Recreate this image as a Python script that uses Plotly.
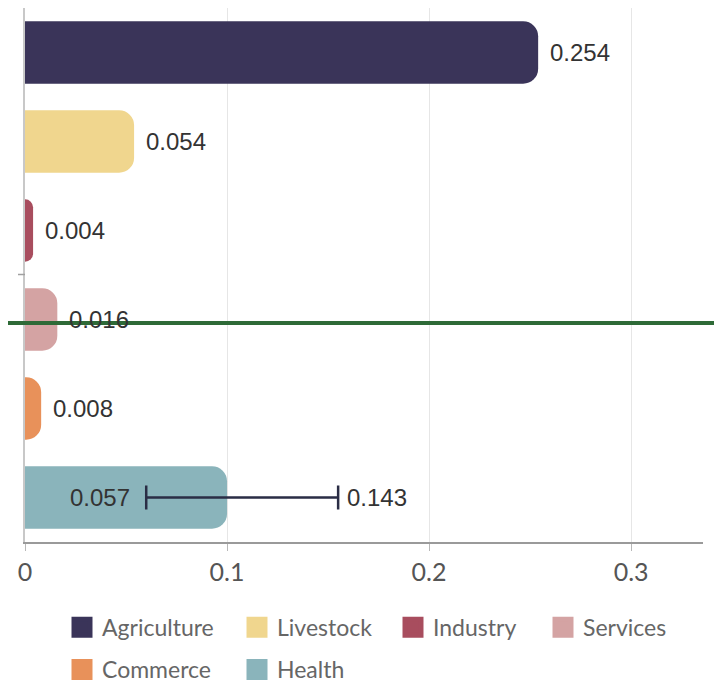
import plotly.graph_objects as go

categories = ["Agriculture", "Livestock", "Industry", "Services", "Commerce", "Health"]
values = [0.254, 0.054, 0.004, 0.016, 0.008, 0.1]
value_labels = ["0.254", "0.054", "0.004", "0.016", "0.008", ""]
colors = ["#3a3459", "#f0d68e", "#a84d5e", "#d4a3a3", "#e8915a", "#8ab4bb"]

# Health interval (positions) and its printed labels
err_low = 0.060
err_high = 0.155
err_low_label = "0.057"
err_high_label = "0.143"

tick_vals = [0, 0.1, 0.2, 0.3]
tick_text = ["0", "0.1", "0.2", "0.3"]

# geometry helpers (pixels inside the figure div; the page body adds an 8px margin)
W, H = 714, 683
ML, MR, MT, MB = 17, 19, 0, 144
PW = W - ML - MR
PH = H - MT - MB


def py(page_y):
    # page y pixel -> paper y
    return (H - MB + 8 - page_y) / PH


def px(page_x):
    return (page_x - 8 - ML) / PW


fig = go.Figure()
# first five bars (no interval)
fig.add_trace(go.Bar(
    x=values[:5], y=categories[:5], orientation="h",
    marker=dict(color=colors[:5], cornerradius=15, line=dict(width=0)),
    width=0.7, showlegend=False, hoverinfo="skip",
))
# Health bar with its interval
fig.add_trace(go.Bar(
    x=values[5:], y=categories[5:], orientation="h",
    marker=dict(color=colors[5:], cornerradius=15, line=dict(width=0)),
    width=0.7, showlegend=False, hoverinfo="skip",
    error_x=dict(type="data", symmetric=False,
                 array=[err_high - values[5]], arrayminus=[values[5] - err_low],
                 color="#2a2d45", thickness=2.5, width=12),
))

# legend entries (one legend per entry so each sits where the reference puts it)
row1, row2 = py(633), py(676)
leg_pos = [(px(62), row1), (px(237), row1), (px(393), row1), (px(543), row1),
           (px(62), row2), (px(237), row2)]
legend_layout = {}
for i, (cat, col) in enumerate(zip(categories, colors)):
    name = "legend" if i == 0 else f"legend{i+1}"
    fig.add_trace(go.Scatter(
        x=[None], y=[None], mode="markers", name=cat,
        marker=dict(symbol="square", size=16, color=col, line=dict(color=col, width=5)),
        legend=name, hoverinfo="skip",
    ))
    legend_layout[name] = dict(
        x=leg_pos[i][0], y=leg_pos[i][1], xanchor="left", yanchor="middle",
        orientation="v", bgcolor="rgba(0,0,0,0)", borderwidth=0,
        font=dict(family="Lato", size=23, color="#666666"),
    )

lab_font = dict(family="Liberation Sans", size=24, color="#333333")
annotations = []
for cat, v, lab in zip(categories, values, value_labels):
    if lab:
        annotations.append(dict(x=v, y=cat, xref="x", yref="y", text=lab, showarrow=False,
                                xanchor="left", xshift=10, font=lab_font))
annotations.append(dict(x=err_low, y=categories[5], xref="x", yref="y", text=err_low_label,
                        showarrow=False, xanchor="right", xshift=-14, font=lab_font))
annotations.append(dict(x=err_high, y=categories[5], xref="x", yref="y", text=err_high_label,
                        showarrow=False, xanchor="left", xshift=7, font=lab_font))

fig.update_layout(
    width=W, height=H,
    margin=dict(l=ML, r=MR, t=MT, b=MB),
    paper_bgcolor="white", plot_bgcolor="white",
    barmode="overlay",
    annotations=annotations,
    shapes=[
        dict(type="line", xref="paper", yref="paper",
             x0=px(0), x1=px(722), y0=py(326), y1=py(326),
             line=dict(color="#2e6a37", width=4)),
        dict(type="line", xref="paper", yref="paper",
             x0=px(18), x1=px(25), y0=py(277), y1=py(277),
             line=dict(color="#a0a0a0", width=1.5)),
    ],
    xaxis=dict(range=[0, 0.3356], tickvals=tick_vals, ticktext=tick_text,
               showgrid=True, gridcolor="#e6e6e6", gridwidth=1,
               showline=True, linecolor="#9a9a9a", linewidth=1.5,
               ticks="outside", ticklen=7, tickcolor="#b8b8b8",
               tickfont=dict(family="Lato", size=25, color="#555555"),
               zeroline=False, fixedrange=True),
    yaxis=dict(categoryorder="array", categoryarray=categories, autorange="reversed",
               showticklabels=False, showgrid=False, showline=True, linecolor="#c8c8c8",
               linewidth=1.5, ticks="", zeroline=False, fixedrange=True),
    **legend_layout,
)

fig.write_html("out.html", config={"displayModeBar": False})
